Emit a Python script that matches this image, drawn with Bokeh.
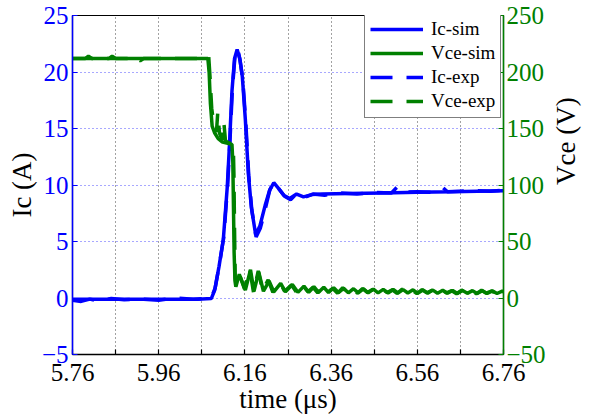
import math
from bokeh.plotting import figure
from bokeh.models import Range1d, LinearAxis, FixedTicker, Legend, LegendItem
from bokeh.embed import file_html
from bokeh.resources import INLINE

# ---------------- data ----------------
x_ticks = [5.76, 5.86, 5.96, 6.06, 6.16, 6.26, 6.36, 6.46, 6.56, 6.66, 6.76]
x_tick_labels = ["5.76", "", "5.96", "", "6.16", "", "6.36", "", "6.56", "", "6.76"]
ic_ticks = [-5, 0, 5, 10, 15, 20, 25]
vce_ticks = [-50, 0, 50, 100, 150, 200, 250]

t_ic_sim = [5.76, 6.05, 6.082, 6.090, 6.100, 6.110, 6.119, 6.124, 6.130, 6.136, 6.142,
            6.148, 6.154, 6.161, 6.168, 6.175, 6.185, 6.195, 6.207, 6.217, 6.227, 6.238,
            6.250, 6.264, 6.280, 6.296, 6.315, 6.34, 6.40, 6.48, 6.56, 6.64, 6.70, 6.76]
ic_sim = [-0.1, -0.1, -0.05, 0.7, 2.8, 5.2, 9.8, 13.4, 18.3, 21.2, 22.0,
          21.2, 19.6, 15.8, 11.0, 8.0, 5.6, 6.4, 8.2, 9.5, 10.2, 9.7,
          9.1, 8.8, 9.2, 8.95, 9.15, 9.2, 9.25, 9.3, 9.35, 9.4, 9.45, 9.5]

t_ic_exp = [5.76, 5.78, 5.80, 5.82, 5.85, 5.88, 5.92, 5.96, 6.00, 6.04, 6.07, 6.083,
            6.091, 6.101, 6.111, 6.120, 6.125, 6.131, 6.137, 6.143, 6.149, 6.155, 6.162,
            6.169, 6.176, 6.186, 6.196, 6.208, 6.218, 6.228, 6.240, 6.252, 6.266, 6.282,
            6.298, 6.318, 6.345, 6.38, 6.42, 6.46, 6.50, 6.513, 6.525, 6.56, 6.60, 6.62,
            6.63, 6.66, 6.70, 6.73, 6.76]
ic_exp = [-0.2, -0.3, -0.1, -0.25, -0.05, -0.15, -0.1, -0.2, 0.0, -0.1, -0.05, 0.1,
          0.9, 3.0, 5.4, 10.0, 13.6, 18.5, 21.4, 22.1, 21.0, 19.4, 15.6,
          10.8, 7.8, 5.4, 6.2, 8.0, 9.6, 10.3, 9.6, 9.0, 8.7, 9.3,
          8.9, 9.2, 9.1, 9.3, 9.2, 9.35, 9.3, 9.8, 9.35, 9.4, 9.35, 9.75,
          9.4, 9.45, 9.5, 9.45, 9.55]

t_vce_sim = [5.76, 6.074, 6.077, 6.080, 6.084, 6.090, 6.098, 6.108, 6.120, 6.130, 6.132,
             6.1335, 6.135, 6.137, 6.139, 6.147, 6.161, 6.173, 6.181, 6.192, 6.203, 6.216,
             6.227, 6.243, 6.254, 6.270, 6.283, 6.297, 6.308, 6.320, 6.331, 6.343, 6.354,
             6.366, 6.377, 6.389, 6.400, 6.412, 6.423, 6.435, 6.446, 6.458, 6.469, 6.481,
             6.492, 6.504, 6.515, 6.527, 6.538, 6.550, 6.561, 6.573, 6.584, 6.596, 6.607,
             6.619, 6.630, 6.642, 6.653, 6.665, 6.676, 6.688, 6.699, 6.711, 6.722, 6.734,
             6.745, 6.757, 6.760]
vce_sim = [212, 212, 200, 172, 152, 146, 141, 138, 137, 136, 120,
           80, 40, 15, 10, 21, 7, 25, 6, 23, 6, 15,
           5.5, 13, 5.5, 12, 5, 10.5, 5, 10, 5, 9.5, 4.8,
           9, 4.8, 8.5, 4.6, 8.2, 4.6, 8, 4.5, 7.8, 4.5, 7.6,
           4.5, 7.5, 4.4, 7.4, 4.4, 7.2, 4.3, 7.0, 4.3, 7.0, 4.2,
           6.8, 4.2, 6.7, 4.1, 6.6, 4.1, 6.5, 4.0, 6.4, 4.0, 6.3,
           4.0, 6.0, 5.5]

t_vce_exp = [5.76, 5.79, 5.797, 5.805, 5.845, 5.852, 5.86, 5.90, 5.906, 5.912, 5.917,
             5.925, 6.00, 6.073, 6.076, 6.079, 6.083, 6.089, 6.094, 6.097, 6.101, 6.107,
             6.111, 6.115, 6.125, 6.133, 6.1345, 6.136, 6.1375, 6.141, 6.149, 6.159, 6.171,
             6.180, 6.191, 6.201, 6.214, 6.225, 6.241, 6.252, 6.268, 6.281, 6.295, 6.306,
             6.318, 6.329, 6.341, 6.352, 6.364, 6.375, 6.387, 6.398, 6.410, 6.421, 6.433,
             6.444, 6.456, 6.467, 6.479, 6.490, 6.502, 6.513, 6.525, 6.536, 6.548, 6.559,
             6.571, 6.582, 6.594, 6.605, 6.617, 6.628, 6.640, 6.651, 6.663, 6.674, 6.686,
             6.697, 6.709, 6.720, 6.732, 6.743, 6.755, 6.760]
vce_exp = [212, 212, 214, 212, 212, 214, 212, 212, 213.5, 211, 210,
           212, 212, 212, 214, 196, 168, 150, 147, 164, 146, 140,
           156, 139, 137, 136, 110, 60, 18, 9, 19, 8, 26,
           5, 24, 6.5, 16, 5, 14, 6, 11.5, 4.5, 11, 5.5,
           9.5, 4.5, 10, 5.2, 8.5, 4.3, 9, 5, 7.8, 4.2, 8.4,
           4.9, 7.4, 4.1, 8, 4.8, 7.2, 4.0, 7.8, 4.7, 7.0, 3.9,
           7.4, 4.6, 6.7, 3.8, 7.2, 4.5, 6.5, 3.8, 7.0, 4.4, 6.3,
           3.8, 6.8, 4.3, 6.2, 3.9, 6.5, 5.8]

# ---------------- figure ----------------
SERIF = "Liberation Serif"
BLUE = "#0000ff"
GREEN = "#008000"

p = figure(width=602, height=417, x_range=Range1d(5.76, 6.76), y_range=Range1d(-5, 25),
           output_backend="svg", toolbar_location=None,
           min_border_left=72, min_border_right=99, min_border_top=15, min_border_bottom=63)
p.extra_y_ranges = {"v": Range1d(-50, 250)}
p.background_fill_color = "white"
p.outline_line_color = "black"
p.outline_line_width = 1.2

# x axis
xa = p.xaxis[0]
xa.ticker = FixedTicker(ticks=x_ticks)
xa.major_label_overrides = {v: s for v, s in zip(x_ticks, x_tick_labels)}
xa.axis_label = "time (μs)"

# left axis
ya = p.yaxis[0]
ya.ticker = FixedTicker(ticks=ic_ticks)
ya.axis_label = "Ic (A)"

# right axis
ra = LinearAxis(y_range_name="v", ticker=FixedTicker(ticks=vce_ticks), axis_label="Vce (V)")
p.add_layout(ra, "right")

for ax, col in ((xa, "black"), (ya, BLUE), (ra, GREEN)):
    ax.axis_line_color = col
    ax.axis_line_width = 1.5
    ax.major_tick_line_color = col
    ax.major_tick_line_width = 1.2
    ax.major_tick_in = 5
    ax.major_tick_out = 0
    ax.minor_tick_line_color = None
    ax.major_label_text_color = col
    ax.major_label_text_font = SERIF
    ax.major_label_text_font_size = "25px"
    ax.axis_label_text_font = SERIF
    ax.axis_label_text_font_size = "27px"
    ax.axis_label_text_font_style = "normal"
    ax.axis_label_text_color = "black"

xa.major_label_standoff = 9
xa.axis_label_standoff = 0
ya.major_label_standoff = 4
ya.axis_label_standoff = 2
ra.major_label_standoff = 3
ra.axis_label_standoff = 17
ra.axis_label_orientation = math.pi / 2

p.xgrid.ticker = FixedTicker(ticks=x_ticks)
p.xgrid.grid_line_color = "#444444"
p.xgrid.grid_line_dash = "1 3"
p.xgrid.grid_line_width = 1
p.ygrid.ticker = FixedTicker(ticks=ic_ticks)
p.ygrid.grid_line_color = "#5050ff"
p.ygrid.grid_line_dash = "1 3"
p.ygrid.grid_line_width = 1

# ---------------- lines ----------------
r_ic_sim = p.line(t_ic_sim, ic_sim, line_color=BLUE, line_width=3.5)
r_ic_exp = p.line(t_ic_exp, ic_exp, line_color=BLUE, line_width=3.5, line_dash="22 14")
r_v_sim = p.line(t_vce_sim, vce_sim, line_color=GREEN, line_width=3.5, y_range_name="v")
r_v_exp = p.line(t_vce_exp, vce_exp, line_color=GREEN, line_width=3.5, line_dash="22 14",
                 y_range_name="v")

legend = Legend(items=[
    LegendItem(label="Ic-sim", renderers=[r_ic_sim]),
    LegendItem(label="Vce-sim", renderers=[r_v_sim]),
    LegendItem(label="Ic-exp", renderers=[r_ic_exp]),
    LegendItem(label="Vce-exp", renderers=[r_v_exp]),
], location=(292, 236))
legend.border_line_color = "black"
legend.border_line_width = 1.5
legend.background_fill_color = "white"
legend.background_fill_alpha = 1
legend.label_text_font = SERIF
legend.label_text_font_size = "19px"
legend.label_text_color = "black"
legend.glyph_width = 53
legend.glyph_height = 20
legend.label_height = 20
legend.label_standoff = 8
legend.padding = 5
legend.spacing = 2
legend.margin = 0
p.add_layout(legend, "center")

open("out.html", "w").write(file_html(p, INLINE))
